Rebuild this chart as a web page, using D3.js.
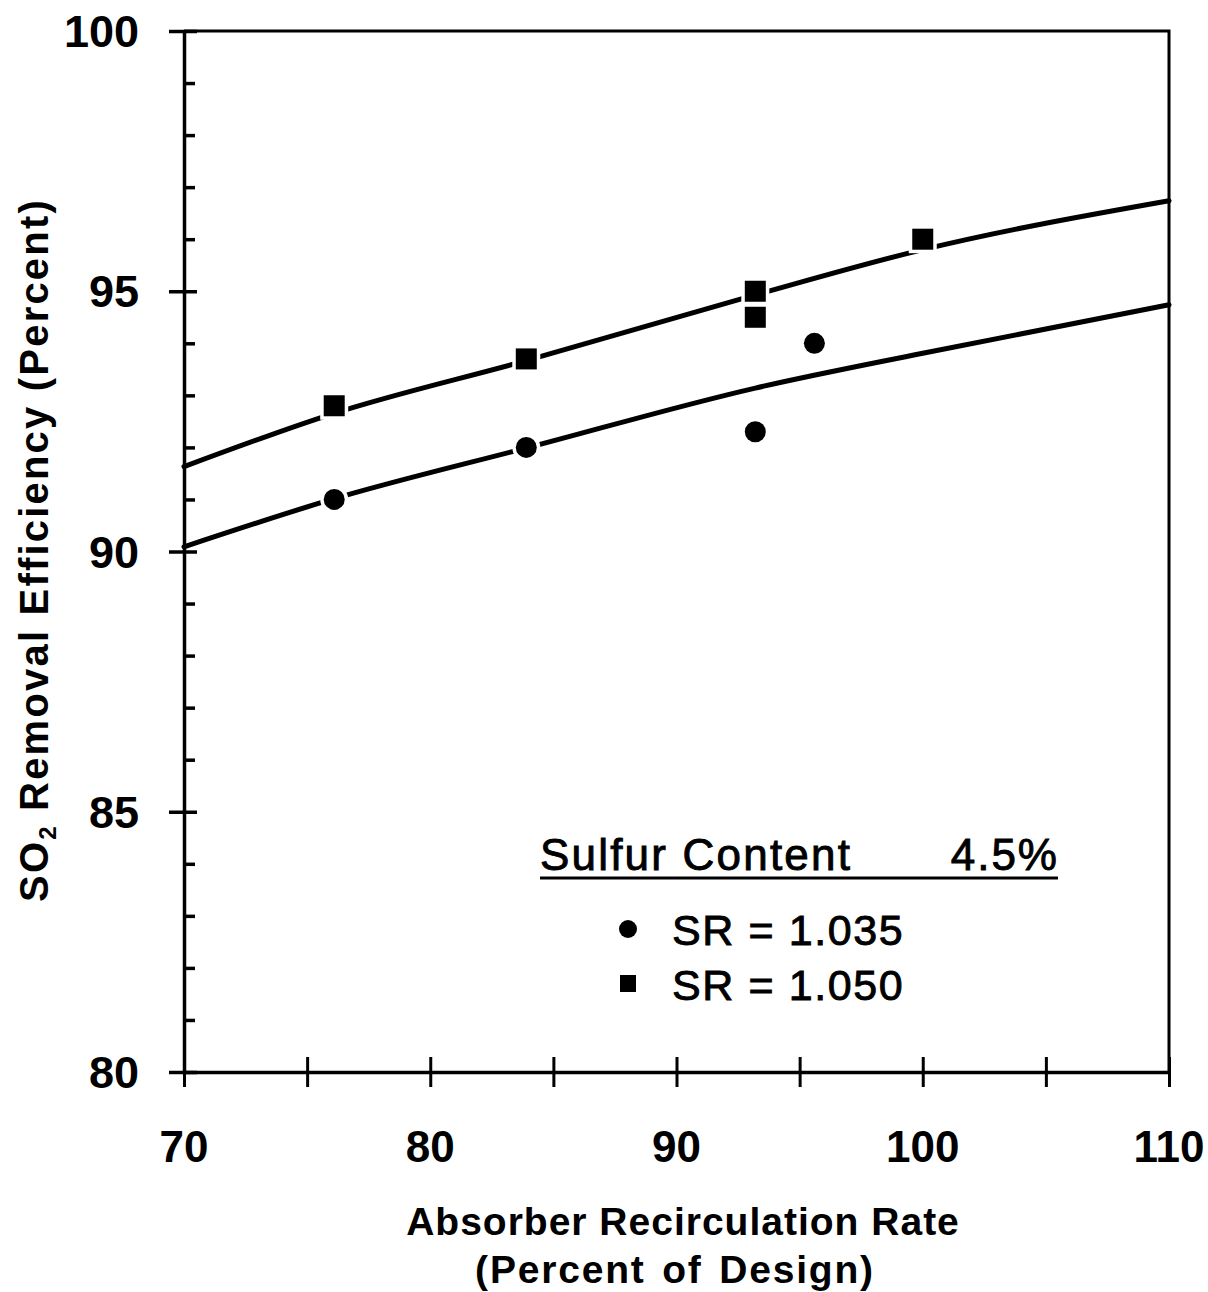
<!DOCTYPE html>
<html><head><meta charset="utf-8">
<script src="https://cdn.jsdelivr.net/npm/d3@7"></script>
<style>body{margin:0;background:#fff}svg{display:block}</style>
</head><body>
<svg id="c" width="1208" height="1292"></svg>
<script>
// Data
const circleX = [76.1, 83.9, 93.2, 95.6];
const circleY = [91.0, 92.0, 92.3, 94.0];
const squareX = [76.1, 83.9, 93.2, 93.2, 100.0];
const squareY = [92.8, 93.7, 95.0, 94.5, 96.0];
// fitted curves
const curveX = [70, 76, 84, 93.2, 100, 110];
const upperY = [91.63, 92.64, 93.68, 94.93, 95.8, 96.74];
const lowerY = [90.09, 91.0, 92.0, 93.14, 93.81, 94.74];
const xTickLabels = [70, 80, 90, 100, 110];
const yTickLabels = [80, 85, 90, 95, 100];

const svg = d3.select("#c");
const font = "'Liberation Sans', Arial, Helvetica, sans-serif";
const x = d3.scaleLinear().domain([70, 110]).range([184, 1169]);
const y = d3.scaleLinear().domain([80, 100]).range([1072, 31]);

// frame
svg.append("path")
  .attr("d", `M${x(70)},${y(100)}H${x(110)}V${y(80)}`)
  .attr("fill", "none").attr("stroke", "#000").attr("stroke-width", 3);

// x axis
const xAxis = svg.append("g").attr("transform", `translate(0,${y(80)})`)
  .call(d3.axisBottom(x).tickValues(d3.range(70, 111, 5)).tickSize(0).tickFormat(""));
xAxis.select(".domain").attr("stroke-width", 3.5);
xAxis.selectAll(".tick").append("line").attr("y1", -15).attr("y2", 15)
  .attr("stroke", "#000").attr("stroke-width", 3);
svg.append("g").selectAll("text").data(xTickLabels).join("text")
  .attr("x", d => x(d)).attr("y", 1162).attr("text-anchor", "middle")
  .attr("font-family", font).attr("font-weight", "bold").attr("font-size", 44)
  .text(d => d);

// y axis
const yAxis = svg.append("g").attr("transform", `translate(${x(70)},0)`)
  .call(d3.axisLeft(y).tickValues(d3.range(80, 100.5, 1)).tickSize(0).tickFormat(""));
yAxis.select(".domain").attr("stroke-width", 3.5);
yAxis.selectAll(".tick").append("line")
  .attr("x1", d => d % 5 === 0 ? -15 : 0)
  .attr("x2", d => d % 5 === 0 ? 13 : 11)
  .attr("stroke", "#000").attr("stroke-width", 3.5);
svg.append("g").selectAll("text").data(yTickLabels).join("text")
  .attr("x", 139).attr("y", d => y(d) + 16).attr("text-anchor", "end")
  .attr("font-family", font).attr("font-weight", "bold").attr("font-size", 45)
  .text(d => d);

// curves
const line = d3.line().x(d => x(d[0])).y(d => y(d[1])).curve(d3.curveMonotoneX);
[upperY, lowerY].forEach(ys => {
  svg.append("path").datum(curveX.map((v, i) => [v, ys[i]]))
    .attr("d", line).attr("fill", "none").attr("stroke", "#000")
    .attr("stroke-width", 5).attr("stroke-linecap", "round");
});

// markers with white halo
svg.append("g").selectAll("circle").data(circleX.map((v, i) => [v, circleY[i]])).join("circle")
  .attr("cx", d => x(d[0])).attr("cy", d => y(d[1])).attr("r", 10.5)
  .attr("fill", "#000").attr("stroke", "#fff").attr("stroke-width", 7).attr("paint-order", "stroke");
svg.append("g").selectAll("rect").data(squareX.map((v, i) => [v, squareY[i]])).join("rect")
  .attr("x", d => x(d[0]) - 10.5).attr("y", d => y(d[1]) - 10.5).attr("width", 21).attr("height", 21)
  .attr("fill", "#000").attr("stroke", "#fff").attr("stroke-width", 7).attr("paint-order", "stroke");

// legend
const lg = svg.append("g").attr("font-family", font).attr("font-size", 44)
  .attr("stroke", "#000").attr("stroke-width", 0.9);
lg.append("text").attr("x", 540).attr("y", 870).attr("letter-spacing", 2.2).text("Sulfur Content");
lg.append("text").attr("x", 1059).attr("y", 870).attr("text-anchor", "end").attr("letter-spacing", 2).text("4.5%");
lg.append("line").attr("x1", 540).attr("x2", 1058).attr("y1", 878).attr("y2", 878)
  .attr("stroke", "#000").attr("stroke-width", 3);
lg.append("circle").attr("cx", 628).attr("cy", 929).attr("r", 9).attr("stroke", "none");
lg.append("text").attr("x", 672).attr("y", 945).attr("font-size", 43).attr("letter-spacing", 1.6).text("SR = 1.035");
lg.append("rect").attr("x", 620).attr("y", 975).attr("width", 16).attr("height", 17).attr("stroke", "none");
lg.append("text").attr("x", 672).attr("y", 1000).attr("font-size", 43).attr("letter-spacing", 1.6).text("SR = 1.050");

// axis titles
const tt = svg.append("g").attr("font-family", font).attr("font-weight", "bold").attr("font-size", 39);
tt.append("text").attr("x", 683).attr("y", 1235).attr("text-anchor", "middle").attr("letter-spacing", 1).text("Absorber Recirculation Rate");
tt.append("text").attr("x", 675).attr("y", 1283).attr("text-anchor", "middle").attr("letter-spacing", 1.8).attr("word-spacing", 4).text("(Percent of Design)");
const yt = tt.append("text").attr("transform", "translate(48,550) rotate(-90)").attr("text-anchor", "middle")
  .attr("font-size", 40).attr("letter-spacing", 2.2);
yt.append("tspan").text("SO");
yt.append("tspan").attr("font-size", 24).attr("dy", 8).text("2");
yt.append("tspan").attr("dy", -8).text(" Removal Efficiency (Percent)");
</script>
</body></html>
